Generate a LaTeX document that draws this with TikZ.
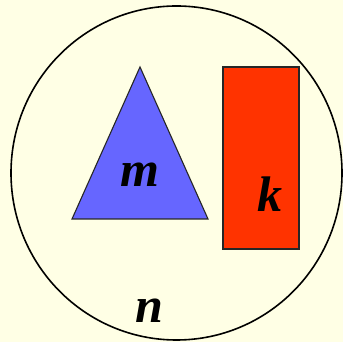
\documentclass[tikz,border=0pt]{standalone}
\usepackage{fontspec}
\setmainfont{Liberation Serif}
\usepackage{tikz}
\definecolor{papercream}{RGB}{255,255,229}
\definecolor{setblue}{RGB}{102,102,255}
\definecolor{setred}{RGB}{255,51,0}
\tikzset{
  outline/.style={draw=black,line width=1.6pt},
  setshape/.style={draw=black!85,line width=1.1pt,line join=miter},
  lab/.style={font=\fontsize{50}{50}\selectfont\bfseries\itshape,anchor=base,inner sep=0pt},
}
\begin{document}
\begin{tikzpicture}[x=1pt,y=1pt]
  \fill[papercream] (0,0) rectangle (343,342);
  \useasboundingbox (0,0) rectangle (343,342);

  \draw[outline] (176.5,169) ellipse [x radius=165.5,y radius=167];
  \filldraw[setshape,fill=setblue] (140,275) -- (72,123) -- (208,123) -- cycle;
  \filldraw[setshape,fill=setred] (223,93) rectangle (299,275);

  \node[lab] (m) at (139.5,155) {m};
  \node[lab] (k) at (270,130) {k};
  \node[lab] (n) at (149,19) {n};
\end{tikzpicture}
\end{document}
